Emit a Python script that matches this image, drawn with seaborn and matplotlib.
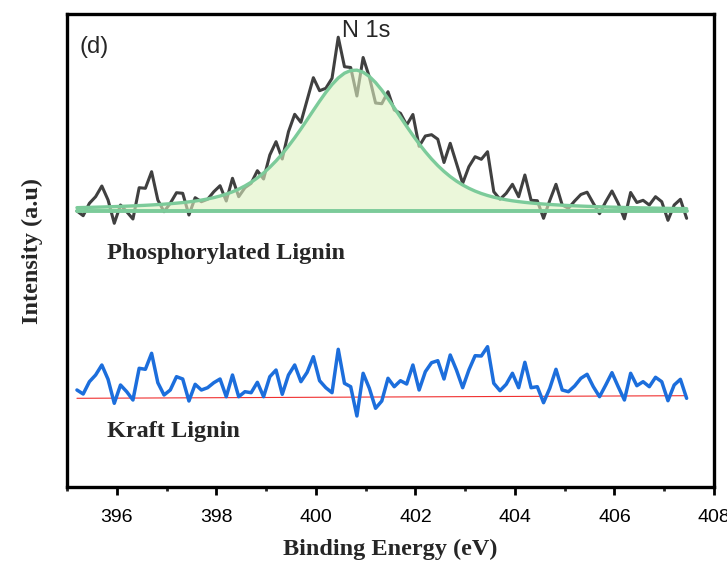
import numpy as np
import pandas as pd
import matplotlib
matplotlib.use("Agg")
import matplotlib.pyplot as plt
import seaborn as sns

# Binding energy grid of the N 1s scans (eV)
energy = np.linspace(395.2, 407.45, 99)

# Phosphorylated lignin, N 1s counts (a.u.)
phos_counts = [
    276.0, 271.3, 283.7, 290.3, 301.0, 287.0, 263.7, 282.0, 275.3, 268.0,
    299.3, 298.7, 315.3, 287.0, 275.3, 283.7, 294.3, 293.7, 272.0, 289.3,
    285.3, 287.7, 295.3, 301.3, 286.0, 308.7, 290.3, 299.3, 303.7, 316.3,
    308.0, 332.0, 345.3, 328.0, 355.3, 372.7, 364.7, 387.0, 409.3, 396.3,
    398.7, 408.7, 449.8, 420.3, 419.5, 391.0, 429.5, 410.0, 384.0, 383.3,
    395.3, 377.0, 373.7, 362.0, 372.5, 340.7, 351.0, 352.3, 347.8, 324.5,
    343.7, 323.7, 303.7, 320.3, 330.3, 327.7, 335.3, 295.3, 287.7, 293.7,
    302.7, 290.3, 312.0, 286.7, 286.3, 268.7, 286.5, 302.7, 282.0, 278.7,
    286.0, 292.5, 294.8, 283.7, 273.3, 285.3, 296.0, 283.7, 268.2, 294.5,
    284.5, 286.7, 282.0, 290.3, 285.3, 266.7, 282.0, 287.7, 268.7,
]

# Kraft lignin, N 1s counts (a.u.)
kraft_counts = [
    97.0, 93.0, 105.3, 112.0, 122.0, 107.7, 83.7, 102.0, 95.3, 87.0,
    118.7, 117.7, 133.7, 104.3, 92.0, 97.0, 110.3, 108.0, 86.0, 102.7,
    97.0, 99.3, 104.3, 108.0, 90.3, 112.0, 90.3, 95.3, 94.3, 104.7,
    90.3, 110.3, 117.0, 92.7, 112.0, 122.0, 105.3, 114.7, 130.3, 106.3,
    99.3, 94.3, 137.7, 103.7, 100.3, 71.0, 113.7, 98.7, 78.7, 86.0,
    108.7, 100.3, 106.3, 103.0, 122.0, 97.0, 115.3, 124.3, 126.3, 108.0,
    132.0, 117.0, 99.3, 117.0, 131.3, 131.0, 140.3, 103.7, 96.3, 102.7,
    113.7, 99.3, 124.7, 99.3, 100.3, 84.3, 98.7, 117.7, 97.0, 95.3,
    101.0, 108.7, 112.7, 100.3, 90.3, 102.0, 114.3, 100.3, 87.0, 113.7,
    101.3, 105.3, 100.3, 109.7, 105.3, 86.3, 102.0, 107.7, 88.7,
]

# Fitted N 1s component (pseudo-Voigt) on a flat background
peak_center = 400.78
peak_height = 141.0
peak_fwhm = 2.49
peak_lorentz_frac = 0.5
phos_background = 276.0

# Linear background under the Kraft lignin scan
kraft_background = [88.7, 91.3]

tick_values = [396, 398, 400, 402, 404, 406, 408]

sns.set_theme(style="white")
plt.rcParams["font.family"] = ["Liberation Sans", "DejaVu Sans"]

fig = plt.figure(figsize=(7.27, 5.62), dpi=100)
ax = fig.add_axes([67 / 727, 1 - 487 / 562, (714 - 67) / 727, (487 - 14) / 562])

df = pd.DataFrame({"energy": energy, "phos": phos_counts, "kraft": kraft_counts})

hw = peak_fwhm / 2
u = (df["energy"] - peak_center) / hw
profile = (1 - peak_lorentz_frac) * np.exp(-np.log(2) * u ** 2) + peak_lorentz_frac / (1 + u ** 2)
df["fit"] = phos_background + peak_height * profile
df["bg"] = phos_background

sns.lineplot(data=df, x="energy", y="phos", ax=ax, color="#404040", lw=2.2, zorder=2)
ax.fill_between(df["energy"], df["bg"], df["fit"], color="#dff2c2", alpha=0.6, lw=0, zorder=3)
sns.lineplot(data=df, x="energy", y="fit", ax=ax, color="#7ccb9a", lw=2.4, zorder=4)
sns.lineplot(data=df, x="energy", y="bg", ax=ax, color="#7ccb9a", lw=2.8, zorder=4)

ax.plot([energy[0], energy[-1]], kraft_background, color="#f03030", lw=0.8, zorder=2)
sns.lineplot(data=df, x="energy", y="kraft", ax=ax, color="#1c6edc", lw=2.5, zorder=3)

ax.set_xlim(395.0, 408.0)
ax.set_ylim(0, 473)
ax.set_xticks(tick_values)
ax.set_xticks(np.arange(395, 408.5, 1), minor=True)
ax.set_yticks([])
ax.tick_params(axis="x", which="major", direction="out", length=6, width=2,
               labelsize=14, pad=10, bottom=True, colors="black")
ax.tick_params(axis="x", which="minor", direction="out", length=3, width=2, bottom=True)
for s in ax.spines.values():
    s.set_linewidth(2.4)
    s.set_color("black")

serif = ["Liberation Serif", "DejaVu Serif"]
ax.set_xlabel("Binding Energy (eV)", family=serif, fontweight="bold", fontsize=17.5, labelpad=9)
ax.set_ylabel("Intensity (a.u)", family=serif, fontweight="bold", fontsize=17.5, labelpad=17)

ax.text(395.25, 440, "(d)", fontsize=17, ha="left", va="center")
ax.text(400.52, 456, "N 1s", fontsize=17, ha="left", va="center")
ax.text(395.8, 234, "Phosphorylated Lignin", family=serif, fontweight="bold", fontsize=17.5,
        ha="left", va="center")
ax.text(395.8, 56, "Kraft Lignin", family=serif, fontweight="bold", fontsize=17.5,
        ha="left", va="center")

fig.savefig("out.png", dpi=100)
